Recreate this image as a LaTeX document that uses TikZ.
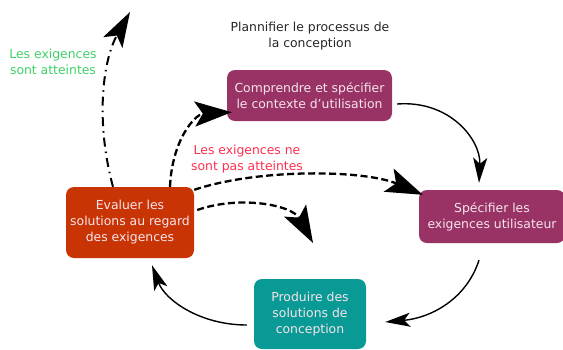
\documentclass[tikz,border=0pt]{standalone}
\usepackage{fontspec}
\setmainfont{DejaVu Sans}
\usetikzlibrary{arrows.meta}
\definecolor{plum}{HTML}{993366}
\definecolor{rust}{HTML}{C93405}
\definecolor{tealc}{HTML}{0A9A96}
\definecolor{boxtxt}{HTML}{F6E4EC}
\definecolor{okgreen}{HTML}{3FD165}
\definecolor{nokred}{HTML}{FF2E4E}
\tikzset{
  boxn/.style={rounded corners=8pt, text=boxtxt, align=center, font=\fontsize{12.4}{16}\selectfont, inner sep=0pt},
  lbl/.style={align=center, font=\fontsize{12.4}{16}\selectfont},
  dashedarrow/.style={line width=2.3pt, dash pattern=on 7pt off 3.5pt, -{Stealth[length=37pt,width=25pt,inset=8pt]}},
  dashdotarrow/.style={line width=2pt, dash pattern=on 9pt off 5pt on 1.5pt off 5pt, -{Stealth[length=35pt,width=22pt,inset=8pt]}},
  solidarrow/.style={line width=1.4pt, -{Stealth[length=25pt,width=14pt,inset=6pt]}}
}
\begin{document}
\begin{tikzpicture}[x=1pt,y=-1pt]
\useasboundingbox (0,0) rectangle (563,349);
\node[boxn, fill=plum, minimum width=165pt, minimum height=51pt] (C) at (309.5,95.5) {Comprendre et spécifier\\le contexte d'utilisation};
\node[boxn, fill=plum, minimum width=146pt, minimum height=53pt] (S) at (492,216.5) {Spécifier les\\exigences utilisateur};
\node[boxn, fill=rust, minimum width=128pt, minimum height=71pt] (E) at (130,222.5) {Evaluer les\\solutions au regard\\des exigences};
\node[boxn, fill=tealc, minimum width=112pt, minimum height=70pt] (P) at (310,314) {Produire des\\solutions de\\conception};
\node[lbl, text=black!85] (T) at (310,36) {Plannifier le processus de\\la conception};
\node[lbl, text=okgreen] (G) at (53,62) {Les exigences\\sont atteintes};
\node[lbl, text=nokred] (R) at (247,159) {Les exigences ne\\sont pas atteintes};
\coordinate (top) at (130,12);
\coordinate (mid) at (313,243);
\draw[dashdotarrow] ([xshift=-17pt]E.north) .. controls (95,120) and (103,60) .. (top);
\draw[dashedarrow] ([xshift=40pt]E.north) .. controls (172,140) and (195,114) .. ([xshift=5pt,yshift=9pt]C.south west);
\draw[dashedarrow] ([yshift=-3pt]E.north east) .. controls (260,168) and (365,170) .. ([xshift=4pt,yshift=-5pt]S.north west);
\draw[dashedarrow] ([xshift=3pt,yshift=12.5pt]E.east) .. controls (240,195) and (292,205) .. (mid);
\draw[solidarrow] ([xshift=5pt,yshift=-8.5pt]C.east) .. controls (450,100) and (481,140) .. ([xshift=-13pt,yshift=7pt]S.north);
\draw[solidarrow] ([xshift=-13pt,yshift=-17pt]S.south) .. controls (466,300) and (430,318) .. ([xshift=19pt,yshift=-8pt]P.east);
\draw[solidarrow] ([xshift=-7pt,yshift=-11pt]P.west) .. controls (200,325) and (165,300) .. ([xshift=22pt,yshift=-7pt]E.south);
\end{tikzpicture}
\end{document}
